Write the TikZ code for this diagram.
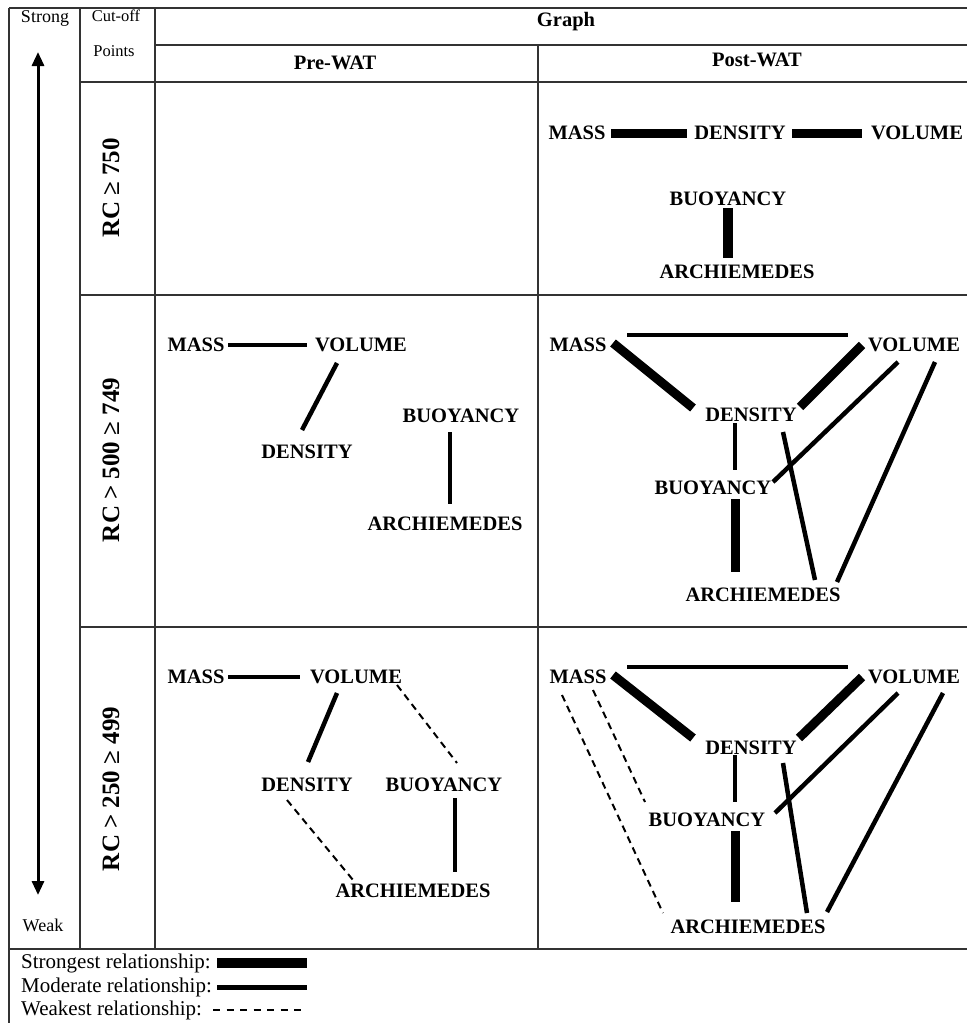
\documentclass[tikz,border=0pt]{standalone}
\usepackage{fontspec}
\setmainfont{Liberation Serif}
\usetikzlibrary{arrows.meta}
\begin{document}
\begin{tikzpicture}[x=1pt,y=-1pt,
  lbl/.style={font=\fontsize{20.5}{22}\selectfont\bfseries, inner sep=0pt},
  hdr/.style={font=\fontsize{20.5}{22}\selectfont\bfseries, inner sep=0pt},
  small/.style={font=\fontsize{18}{20}\selectfont, inner sep=0pt},
  rclbl/.style={font=\fontsize{25}{27}\selectfont\bfseries, inner sep=0pt, rotate=90},
  leg/.style={font=\fontsize{21}{23}\selectfont, inner sep=0pt, anchor=west},
  grid/.style={draw=black!80, line width=1.4pt},
  strongest/.style={line width=9pt},
  moderate/.style={line width=4.5pt},
  weakest/.style={line width=2pt, dash pattern=on 7pt off 5pt},
]
\useasboundingbox (0,0) rectangle (967,1023);
\fill[white] (0,0) rectangle (967,1023);

% table grid
\draw[grid, line width=2pt] (9,8) -- (967,8);
\draw[grid] (9,8) -- (9,1023);
\draw[grid] (80,8) -- (80,949);
\draw[grid] (155,8) -- (155,949);
\draw[grid] (538,45) -- (538,949);
\draw[grid] (155,45) -- (967,45);
\draw[grid] (80,82) -- (967,82);
\draw[grid] (80,295) -- (967,295);
\draw[grid] (80,627) -- (967,627);
\draw[grid] (9,949) -- (967,949);

% headers
\node[small] (strong) at (45,18) {Strong};
\node[small, font=\fontsize{16.5}{18}\selectfont] (cutoff) at (116,16) {Cut-off};
\node[small, font=\fontsize{16.5}{18}\selectfont] (points) at (114,51) {Points};
\node[hdr] (graph) at (566,22) {Graph};
\node[hdr] (pre) at (335,63) {Pre-WAT};
\node[hdr] (post) at (757,60) {Post-WAT};
\node[small] (weak) at (43,925) {Weak};
\coordinate (atop) at (38,52);
\coordinate (abot) at (38,895);
\draw[line width=3pt, {Triangle[width=12pt,length=14pt]}-{Triangle[width=12pt,length=14pt]}] (atop) -- (abot);

% row labels
\node[rclbl] (rc1) at (111,188) {RC ≥ 750};
\node[rclbl] (rc2) at (111,460) {RC > 500 ≥ 749};
\node[rclbl] (rc3) at (111,789) {RC > 250 ≥ 499};

% Row 1 Post-WAT
\node[lbl] (m1) at (577,133) {MASS};
\node[lbl] (d1) at (740,133) {DENSITY};
\node[lbl] (v1) at (917,133) {VOLUME};
\node[lbl] (b1) at (728,199) {BUOYANCY};
\node[lbl] (a1) at (737,272) {ARCHIEMEDES};
\draw[strongest] ([shift={(34,0)}]m1.center) -- ([shift={(-53,0)}]d1.center);
\draw[strongest] ([shift={(52,0)}]d1.center) -- ([shift={(-55,0)}]v1.center);
\draw[line width=10pt] ([shift={(0,9)}]b1.center) -- ([shift={(-9,-14)}]a1.center);

% Row 2 Pre-WAT
\node[lbl] (m2) at (196,345) {MASS};
\node[lbl] (v2) at (361,345) {VOLUME};
\node[lbl] (d2) at (307,452) {DENSITY};
\node[lbl] (b2) at (461,416) {BUOYANCY};
\node[lbl] (a2) at (445,524) {ARCHIEMEDES};
\draw[moderate] ([shift={(32,0)}]m2.center) -- ([shift={(-54,0)}]v2.center);
\draw[moderate] ([shift={(-24,18)}]v2.center) -- ([shift={(-5,-22)}]d2.center);
\draw[moderate] ([shift={(-11,16)}]b2.center) -- ([shift={(5,-20)}]a2.center);

% Row 2 Post-WAT
\node[lbl] (m3) at (578,345) {MASS};
\node[lbl] (v3) at (914,345) {VOLUME};
\node[lbl] (d3) at (751,415) {DENSITY};
\node[lbl] (b3) at (713,488) {BUOYANCY};
\node[lbl] (a3) at (763,595) {ARCHIEMEDES};
\draw[moderate] ([shift={(49,-10)}]m3.center) -- ([shift={(-66,-10)}]v3.center);
\draw[strongest] ([shift={(35,-2)}]m3.center) -- ([shift={(-58,-7)}]d3.center);
\draw[strongest] ([shift={(-52,0)}]v3.center) -- ([shift={(49,-8)}]d3.center);
\draw[moderate] ([shift={(-16,8)}]d3.center) -- ([shift={(22,-18)}]b3.center);
\draw[strongest] ([shift={(22,11)}]b3.center) -- ([shift={(-28,-23)}]a3.center);
\draw[moderate] ([shift={(32,17)}]d3.center) -- ([shift={(52,-15)}]a3.center);
\draw[moderate] ([shift={(-16,17)}]v3.center) -- ([shift={(60,-6)}]b3.center);
\draw[moderate] ([shift={(21,17)}]v3.center) -- ([shift={(74,-13)}]a3.center);

% Row 3 Pre-WAT
\node[lbl] (m4) at (196,677) {MASS};
\node[lbl] (v4) at (356,677) {VOLUME};
\node[lbl] (d4) at (307,785) {DENSITY};
\node[lbl] (b4) at (444,785) {BUOYANCY};
\node[lbl] (a4) at (413,891) {ARCHIEMEDES};
\draw[moderate] ([shift={(32,0)}]m4.center) -- ([shift={(-56,0)}]v4.center);
\draw[moderate] ([shift={(-19,16)}]v4.center) -- ([shift={(1,-23)}]d4.center);
\draw[weakest] ([shift={(41,8)}]v4.center) -- ([shift={(13,-22)}]b4.center);
\draw[weakest] ([shift={(-20,15)}]d4.center) -- ([shift={(-60,-11)}]a4.center);
\draw[moderate] ([shift={(11,13)}]b4.center) -- ([shift={(42,-19)}]a4.center);

% Row 3 Post-WAT
\node[lbl] (m5) at (578,677) {MASS};
\node[lbl] (v5) at (914,677) {VOLUME};
\node[lbl] (d5) at (751,748) {DENSITY};
\node[lbl] (b5) at (707,820) {BUOYANCY};
\node[lbl] (a5) at (748,927) {ARCHIEMEDES};
\draw[moderate] ([shift={(49,-10)}]m5.center) -- ([shift={(-66,-10)}]v5.center);
\draw[strongest] ([shift={(35,-2)}]m5.center) -- ([shift={(-58,-10)}]d5.center);
\draw[strongest] ([shift={(-52,0)}]v5.center) -- ([shift={(48,-10)}]d5.center);
\draw[moderate] ([shift={(-16,7)}]d5.center) -- ([shift={(28,-18)}]b5.center);
\draw[strongest] ([shift={(28,11)}]b5.center) -- ([shift={(-13,-25)}]a5.center);
\draw[moderate] ([shift={(32,15)}]d5.center) -- ([shift={(59,-14)}]a5.center);
\draw[moderate] ([shift={(-16,16)}]v5.center) -- ([shift={(68,-7)}]b5.center);
\draw[moderate] ([shift={(29,16)}]v5.center) -- ([shift={(79,-15)}]a5.center);
\draw[weakest] ([shift={(-16,18)}]m5.center) -- ([shift={(-85,-14)}]a5.center);
\draw[weakest] ([shift={(15,13)}]m5.center) -- ([shift={(-62,-18)}]b5.center);

% Legend
\node[leg] (ls) at (21,963) {Strongest relationship:};
\node[leg] (lm) at (21,987) {Moderate relationship:};
\node[leg] (lw) at (21,1010) {Weakest relationship:};
\draw[line width=10pt] (217,963) -- (307,963);
\draw[line width=5pt] (217,987) -- (307,987);
\draw[line width=2pt, dash pattern=on 7pt off 6.5pt] (213,1010) -- (307,1010);
\end{tikzpicture}
\end{document}
